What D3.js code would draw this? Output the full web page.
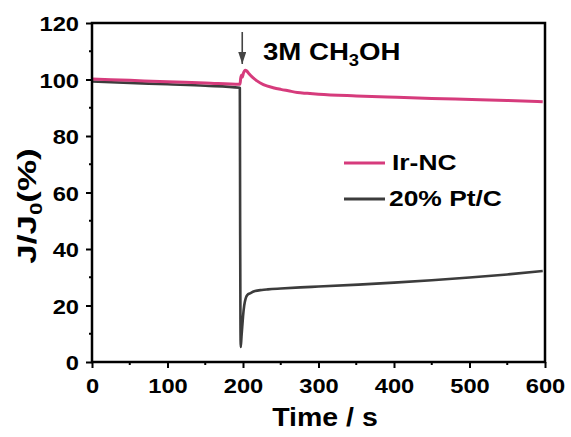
<!DOCTYPE html>
<html>
<head>
<meta charset="utf-8">
<script src="https://cdn.jsdelivr.net/npm/d3@7"></script>
<style>
  html, body { margin: 0; padding: 0; background: #fff; }
  svg { display: block; font-family: "Liberation Sans", Arial, sans-serif; font-weight: bold; }
</style>
</head>
<body>
<svg id="chart" width="571" height="437"></svg>
<script>
// Chronoamperometric response, normalised current J/J0 (%) vs time (s)
const irTime = [0, 50, 100, 150, 196, 197, 198, 199, 200.5, 203, 205, 208, 212, 218, 227, 240, 250, 260, 272, 285, 300, 350, 404, 450, 492, 550, 597];
const irValue = [100.2, 99.7, 99.2, 98.8, 98.3, 100.5, 101.5, 100.8, 102.2, 103.3, 103.0, 102.0, 100.9, 99.6, 98.2, 97.1, 96.5, 96.0, 95.4, 95.1, 94.8, 94.2, 93.7, 93.3, 93.0, 92.6, 92.1];

const ptTime = [0, 50, 100, 150, 195.8, 196.2, 196.6, 197, 198, 199, 200, 201.6, 205.6, 210, 216, 225, 233, 250, 276, 300, 353, 400, 450, 500, 550, 597];
const ptValue = [99.3, 98.8, 98.3, 97.8, 97.1, 50, 15, 5.3, 9, 12.5, 16, 20, 23.7, 24.4, 25.1, 25.5, 25.7, 26.0, 26.4, 26.7, 27.4, 28.1, 28.95, 29.9, 31.0, 32.2];

const xTicks = [0, 100, 200, 300, 400, 500, 600];
const yTicks = [0, 20, 40, 60, 80, 100, 120];
const xMinorTicks = [50, 150, 250, 350, 450, 550];
const yMinorTicks = [10, 30, 50, 70, 90, 110];

const seriesNames = ["Ir-NC", "20% Pt/C"];
const seriesColors = ["#d63b7c", "#3c3c3c"];

const svg = d3.select("#chart");
const plotLeft = 92, plotRight = 545, plotTop = 23, plotBottom = 362;

const x = d3.scaleLinear().domain([0, 600]).range([plotLeft, plotRight]);
const y = d3.scaleLinear().domain([0, 120]).range([plotBottom, plotTop]);

const line = d3.line().curve(d3.curveMonotoneX).x(d => x(d[0])).y(d => y(d[1]));

// Curves: Pt/C underneath, Ir-NC on top
const ptData = ptTime.map((t, i) => [t, ptValue[i]]);
const irData = irTime.map((t, i) => [t, irValue[i]]);

svg.append("path").datum(ptData)
  .attr("d", line).attr("fill", "none")
  .attr("stroke", seriesColors[1]).attr("stroke-width", 2.6)
  .attr("stroke-linejoin", "round");
svg.append("path").datum(irData)
  .attr("d", line).attr("fill", "none")
  .attr("stroke", seriesColors[0]).attr("stroke-width", 3)
  .attr("stroke-linejoin", "round");

// Axes (labels use a slightly widened bold face)
const tickStretch = 1.13;
const xAxis = d3.axisBottom(x).tickValues(xTicks).tickSize(6).tickPadding(4).tickFormat(d3.format("d"));
const yAxis = d3.axisLeft(y).tickValues(yTicks).tickSize(6).tickPadding(4).tickFormat(d3.format("d"));

const gx = svg.append("g").attr("transform", `translate(0,${plotBottom})`).call(xAxis);
const gy = svg.append("g").attr("transform", `translate(${plotLeft},0)`).call(yAxis);

[gx, gy].forEach(g => {
  g.select(".domain").remove();
  g.selectAll(".tick line").attr("stroke", "#000").attr("stroke-width", 2);
  g.selectAll(".tick text").attr("fill", "#000").attr("font-size", 21)
    .attr("font-family", "'Liberation Sans', Arial, sans-serif").attr("font-weight", "bold")
    .attr("transform", `scale(${tickStretch},1)`);
});
gx.selectAll(".tick text").attr("dy", "1.0em");
gy.selectAll(".tick text").attr("x", -13 / tickStretch).attr("dy", "0.36em");

// Minor ticks
svg.append("g").selectAll("line").data(xMinorTicks).join("line")
  .attr("x1", d => x(d)).attr("x2", d => x(d))
  .attr("y1", plotBottom).attr("y2", plotBottom + 3)
  .attr("stroke", "#000").attr("stroke-width", 2);
svg.append("g").selectAll("line").data(yMinorTicks).join("line")
  .attr("y1", d => y(d)).attr("y2", d => y(d))
  .attr("x1", plotLeft).attr("x2", plotLeft - 3)
  .attr("stroke", "#000").attr("stroke-width", 2);

// Frame
svg.append("rect")
  .attr("x", plotLeft).attr("y", plotTop)
  .attr("width", plotRight - plotLeft).attr("height", plotBottom - plotTop)
  .attr("fill", "none").attr("stroke", "#000").attr("stroke-width", 2.5);

// Axis titles
svg.append("text")
  .attr("transform", `translate(325,426) scale(1.14,1)`)
  .attr("text-anchor", "middle").attr("font-size", 25)
  .text("Time / s");

const yl = svg.append("text")
  .attr("transform", `translate(36,206) rotate(-90) scale(1.4,1)`)
  .attr("text-anchor", "middle").attr("font-size", 25);
yl.append("tspan").text("J/J");
yl.append("tspan").attr("font-size", 16).attr("dy", 6).text("0");
yl.append("tspan").attr("dy", -6).text("(%)");

// Methanol injection marker
const defs = svg.append("defs");
defs.append("marker").attr("id", "arrowhead")
  .attr("viewBox", "0 0 12 8").attr("refX", 12).attr("refY", 4)
  .attr("markerWidth", 12).attr("markerHeight", 8).attr("markerUnits", "userSpaceOnUse")
  .attr("orient", "auto")
  .append("path").attr("d", "M0,0 L12,4 L0,8 Z").attr("fill", "#444");

const injectT = 199;
svg.append("line")
  .attr("x1", x(injectT)).attr("x2", x(injectT))
  .attr("y1", 32).attr("y2", 64)
  .attr("stroke", "#444").attr("stroke-width", 1.6)
  .attr("marker-end", "url(#arrowhead)");

const ann = svg.append("text")
  .attr("transform", "translate(263,60) scale(1.15,1)")
  .attr("font-size", 24);
ann.append("tspan").text("3M CH");
ann.append("tspan").attr("font-size", 16).attr("dy", 6).text("3");
ann.append("tspan").attr("dy", -6).text("OH");

// Legend
const legend = svg.append("g");
const legendY = [163, 199];
seriesNames.forEach((name, i) => {
  legend.append("line")
    .attr("x1", 344).attr("x2", 385)
    .attr("y1", legendY[i]).attr("y2", legendY[i])
    .attr("stroke", seriesColors[i]).attr("stroke-width", 3);
  legend.append("text")
    .attr("transform", `translate(${i === 0 ? 392 : 389},${legendY[i] + 7}) scale(1.2,1)`)
    .attr("font-size", 22).text(name);
});
</script>
</body>
</html>
